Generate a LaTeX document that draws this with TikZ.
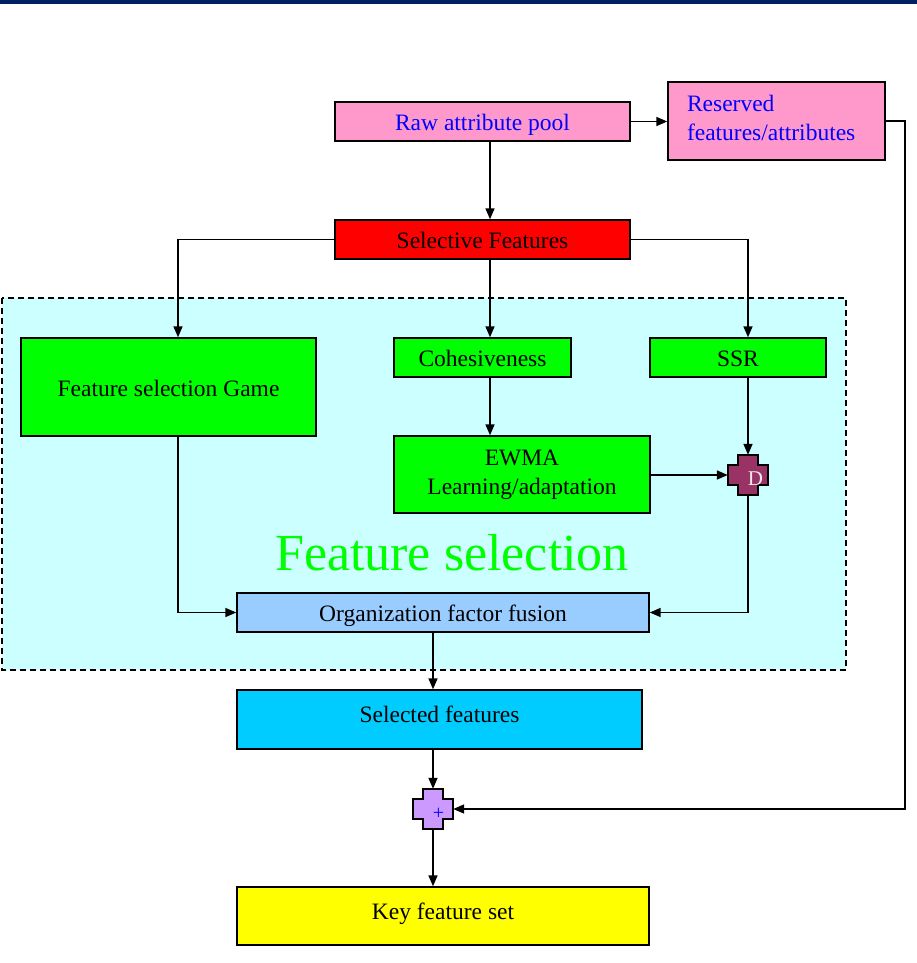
\documentclass[tikz,border=0pt]{standalone}
\usepackage{fontspec}
\setmainfont{Liberation Serif}
\usetikzlibrary{arrows.meta}

\definecolor{navy}{RGB}{0,32,96}
\definecolor{pinkbox}{HTML}{FF99CC}
\definecolor{redbox}{HTML}{FF0000}
\definecolor{greenbox}{HTML}{00FF00}
\definecolor{region}{HTML}{CCFFFF}
\definecolor{fusion}{HTML}{99CCFF}
\definecolor{selbox}{HTML}{00CCFF}
\definecolor{keybox}{HTML}{FFFF00}
\definecolor{dcross}{HTML}{993366}
\definecolor{pcross}{HTML}{CC99FF}
\definecolor{bluetext}{HTML}{0000FF}

% plus-shaped outline around a point, arms 20 wide, overall 40 x 40
\newcommand{\crossat}[2]{%
  \filldraw[fill=#2, draw=black, line width=1.4pt]
    (#1) ++(-10,-20) -- ++(20,0) -- ++(0,10) -- ++(10,0) -- ++(0,20)
    -- ++(-10,0) -- ++(0,10) -- ++(-20,0) -- ++(0,-10) -- ++(-10,0)
    -- ++(0,-20) -- ++(10,0) -- cycle;}

\begin{document}
\begin{tikzpicture}[x=1pt, y=-1pt,
  box/.style={draw=black, line width=1.4pt, inner sep=0pt, align=center,
              font=\fontsize{23.5}{29}\selectfont},
  oneline/.style={box, text height=23.5pt, text depth=5pt},
  arr/.style={line width=1.6pt, -{Triangle[length=11pt,width=9pt]}},
  crossnode/.style={minimum size=40pt, inner sep=0pt}]
\useasboundingbox (0,0) rectangle (917,963);

% header bar
\fill[navy] (0,0) rectangle (917,4);

% feature selection region
\filldraw[fill=region, draw=black, line width=1.3pt, dash pattern=on 6pt off 4pt]
  (2,298) rectangle (846,670);
\node[text=greenbox, font=\fontsize{52}{60}\selectfont] (fstitle) at (452,553) {Feature selection};

% helper columns for off-centre connectors
\coordinate (spine) at (490,0);
\coordinate (gx) at (178,0);
\coordinate (rx) at (905,0);

% boxes
\node[oneline, fill=pinkbox, text=bluetext, minimum width=295pt, minimum height=39pt]
  (raw) at (482.5,121.5) {Raw attribute pool};
\node[box, fill=pinkbox, text=bluetext, minimum width=217pt, minimum height=78pt,
      text width=179pt, inner xsep=19pt, align=left, text depth=36pt]
  (res) at (776.5,121) {Reserved\\features/attributes};
\node[oneline, fill=redbox, minimum width=295pt, minimum height=39pt]
  (sel) at (482.5,239.5) {Selective Features};
\node[oneline, fill=greenbox, minimum width=295pt, minimum height=98pt]
  (game) at (168.5,387) {Feature selection Game};
\node[oneline, fill=greenbox, minimum width=177pt, minimum height=39pt]
  (coh) at (482.5,357.5) {Cohesiveness};
\node[oneline, fill=greenbox, minimum width=176pt, minimum height=39pt]
  (ssr) at (738,357.5) {SSR};
\node[box, fill=greenbox, minimum width=256pt, minimum height=77pt]
  (ewma) at (522,474.5) {EWMA\\Learning/adaptation};
\node[oneline, fill=fusion, minimum width=412pt, minimum height=39pt]
  (org) at (443,612.5) {Organization factor fusion};
\node[box, fill=selbox, minimum width=405pt, minimum height=59pt, text depth=10pt]
  (chosen) at (439.5,719.5) {Selected features};
\node[box, fill=keybox, minimum width=412pt, minimum height=58pt, text depth=9pt]
  (key) at (443,916) {Key feature set};

% combining crosses
\node[crossnode] (d) at (748,475) {};
\crossat{d.center}{dcross}
\node[text=white!92!black, font=\fontsize{21}{24}\selectfont] (dlabel) at (755.5,479) {D};
\node[crossnode] (plus) at (433,809) {};
\crossat{plus.center}{pcross}
\node[text=bluetext, font=\fontsize{20}{24}\selectfont] (pluslabel) at (438.5,814) {+};

% connectors
\draw[arr] (raw.south -| spine) -- (sel.north -| spine);
\draw[arr] (raw.east) -- (raw.east -| res.west);
\draw[arr] (res.east) -- (res.east -| rx) |- (plus.east);
\draw[arr] (sel.west) -| (game.north -| gx);
\draw[arr] (sel.south -| spine) -- (coh.north -| spine);
\draw[arr] (sel.east) -| (ssr.north -| d.north);
\draw[arr] (coh.south -| spine) -- (ewma.north -| spine);
\draw[arr] (ssr.south -| d.north) -- (d.north);
\draw[arr] (ewma.east |- d.west) -- (d.west);
\draw[arr] (game.south -| gx) |- (org.west);
\draw[arr] (d.south) |- (org.east);
\draw[arr] (org.south -| plus) -- (chosen.north -| plus);
\draw[arr] (chosen.south -| plus) -- (plus.north);
\draw[arr] (plus.south) -- (key.north -| plus);
\end{tikzpicture}
\end{document}
